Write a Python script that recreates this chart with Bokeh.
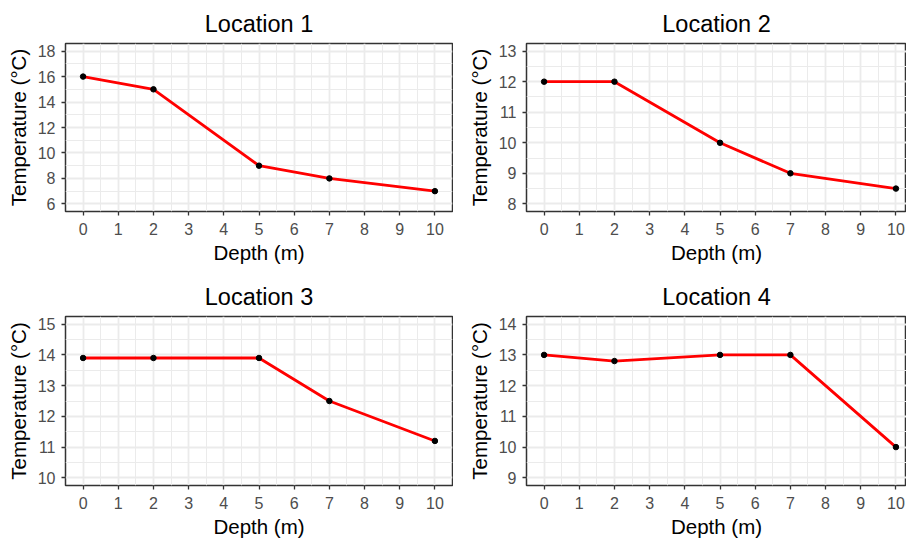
from bokeh.plotting import figure
from bokeh.layouts import gridplot
from bokeh.models import FixedTicker, Range1d
from bokeh.embed import file_html
from bokeh.resources import INLINE

# ---- data ----
depth = [0, 2, 5, 7, 10]
temp_loc1 = [16, 15, 9, 8, 7]
temp_loc2 = [12, 12, 10, 9, 8.5]
temp_loc3 = [13.9, 13.9, 13.9, 12.5, 11.2]
temp_loc4 = [13, 12.8, 13, 13, 10]

titles = ["Location 1", "Location 2", "Location 3", "Location 4"]
x_ticks = [0, 1, 2, 3, 4, 5, 6, 7, 8, 9, 10]
y_ticks_loc1 = [6, 8, 10, 12, 14, 16, 18]
y_ticks_loc2 = [8, 9, 10, 11, 12, 13]
y_ticks_loc3 = [10, 11, 12, 13, 14, 15]
y_ticks_loc4 = [9, 10, 11, 12, 13, 14]
y_limits = [(6, 18), (8, 13), (10, 15), (9, 14)]

x_label = "Depth (m)"
y_label = "Temperature (°C)"

FONT = "Liberation Sans"


def minor_of(ticks):
    step = ticks[1] - ticks[0]
    return [ticks[0] - step / 2] + [t + step / 2 for t in ticks]


def make_panel(title, temps, yticks, ylim, col, row):
    width = 453
    height = 272 if row == 0 else 269
    if col == 0:
        xr = Range1d(-0.5, 10.5)
        mbl, mbr = 65, 1
    else:
        xr = Range1d(-0.5, 10.3)
        mbl, mbr = 73, 0
    pad = (ylim[1] - ylim[0]) * 0.05
    yr = Range1d(ylim[0] - pad, ylim[1] + pad)
    if row == 0:
        mbt, mbb = 43, 61
    else:
        mbt, mbb = 44, 56
    p = figure(width=width, height=height, x_range=xr, y_range=yr,
               output_backend="svg", toolbar_location=None,
               min_border_left=mbl, min_border_right=mbr,
               min_border_top=mbt, min_border_bottom=mbb,
               background_fill_color="white", border_fill_color="white",
               title=title)
    p.title.text_font = FONT
    p.title.text_font_size = "23.5px"
    p.title.text_font_style = "normal"
    p.title.text_color = "black"
    p.title.align = "center"
    p.title.standoff = 14

    p.outline_line_color = "#333333"
    p.outline_line_width = 1.5
    p.outline_line_alpha = 1.0

    p.xaxis.ticker = FixedTicker(ticks=x_ticks, minor_ticks=minor_of(x_ticks))
    p.yaxis.ticker = FixedTicker(ticks=yticks, minor_ticks=minor_of(yticks))

    for ax in (p.xaxis, p.yaxis):
        ax.axis_line_color = None
        ax.major_tick_in = 0
        ax.major_tick_out = 4
        ax.major_tick_line_color = "#333333"
        ax.major_tick_line_width = 1.3
        ax.minor_tick_line_color = None
        ax.major_label_text_font = FONT
        ax.major_label_text_font_size = "16px"
        ax.major_label_text_color = "#4d4d4d"
        ax.axis_label_text_font = FONT
        ax.axis_label_text_font_size = "20.5px"
        ax.axis_label_text_font_style = "normal"
        ax.axis_label_text_color = "black"
    p.xaxis.axis_label = x_label
    p.yaxis.axis_label = y_label
    p.xaxis.major_label_standoff = 7
    p.yaxis.major_label_standoff = 6
    p.xaxis.axis_label_standoff = 3
    p.yaxis.axis_label_standoff = 5

    for g in (p.xgrid, p.ygrid):
        g.grid_line_color = "#ebebeb"
        g.grid_line_width = 1.8
        g.minor_grid_line_color = "#ebebeb"
        g.minor_grid_line_width = 1.0

    p.line(depth, temps, line_color="#ff0000", line_width=2.8, line_join="round")
    p.scatter(depth, temps, size=5.5, fill_color="black", line_color="black")
    return p


p1 = make_panel(titles[0], temp_loc1, y_ticks_loc1, y_limits[0], 0, 0)
p2 = make_panel(titles[1], temp_loc2, y_ticks_loc2, y_limits[1], 1, 0)
p3 = make_panel(titles[2], temp_loc3, y_ticks_loc3, y_limits[2], 0, 1)
p4 = make_panel(titles[3], temp_loc4, y_ticks_loc4, y_limits[3], 1, 1)

p = gridplot([[p1, p2], [p3, p4]], toolbar_location=None)

open("out.html", "w").write(file_html(p, INLINE))
